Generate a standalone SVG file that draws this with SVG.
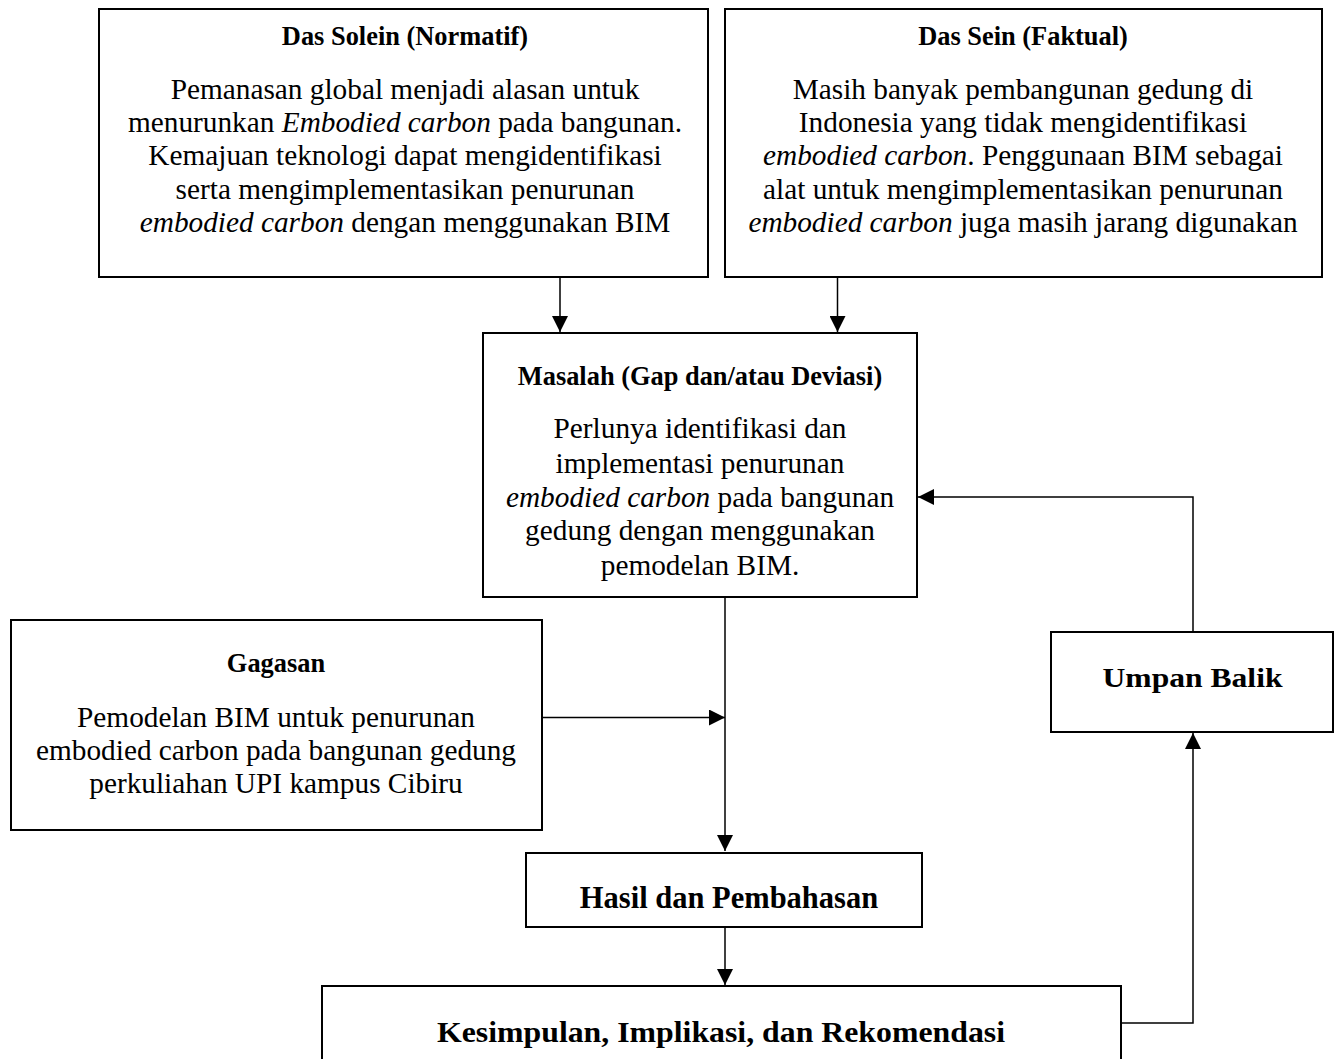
<svg xmlns="http://www.w3.org/2000/svg" width="1339" height="1059" viewBox="0 0 1339 1059">
<defs>
<style>
.box{fill:#fff;stroke:#000;stroke-width:2}
.con{fill:none;stroke:#000;stroke-width:1.5}
text{font-family:"Liberation Serif","Times New Roman",serif;fill:#000;text-anchor:middle}
.t{font-weight:bold;font-size:26.4px}
.b{font-size:29.3px}
.big{font-weight:bold}
.i{font-style:italic}
</style>
<marker id="ah" markerUnits="userSpaceOnUse" markerWidth="16" markerHeight="16" refX="15" refY="7.5" orient="auto" viewBox="0 0 15 15">
<path d="M0,0 L15,7.5 L0,15 z" fill="#000"/>
</marker>
</defs>
<rect width="1339" height="1059" fill="#fff"/>

<g id="connectors">
<line class="con" x1="560" y1="277" x2="560" y2="332" marker-end="url(#ah)"/>
<line class="con" x1="837.5" y1="277" x2="837.5" y2="332" marker-end="url(#ah)"/>
<line class="con" x1="725" y1="597" x2="725" y2="851" marker-end="url(#ah)"/>
<line class="con" x1="542" y1="717.5" x2="725" y2="717.5" marker-end="url(#ah)"/>
<line class="con" x1="725" y1="927" x2="725" y2="985" marker-end="url(#ah)"/>
<polyline class="con" points="1121,1023 1193,1023 1193,733" marker-end="url(#ah)"/>
<polyline class="con" points="1193,632 1193,497 918,497" marker-end="url(#ah)"/>
</g>

<g id="das-solein">
<rect class="box" x="99" y="9" width="609" height="268"/>
<text class="t" x="405" y="45">Das Solein (Normatif)</text>
<text class="b" x="405" y="99">Pemanasan global menjadi alasan untuk</text>
<text class="b" x="405" y="132">menurunkan <tspan class="i">Embodied carbon</tspan> pada bangunan.</text>
<text class="b" x="405" y="165">Kemajuan teknologi dapat mengidentifikasi</text>
<text class="b" x="405" y="198.5">serta mengimplementasikan penurunan</text>
<text class="b" x="405" y="232"><tspan class="i">embodied carbon</tspan> dengan menggunakan BIM</text>
</g>

<g id="das-sein">
<rect class="box" x="725" y="9" width="597" height="268"/>
<text class="t" x="1023" y="45">Das Sein (Faktual)</text>
<text class="b" x="1023" y="99">Masih banyak pembangunan gedung di</text>
<text class="b" x="1023" y="132">Indonesia yang tidak mengidentifikasi</text>
<text class="b" x="1023" y="165"><tspan class="i">embodied carbon</tspan>. Penggunaan BIM sebagai</text>
<text class="b" x="1023" y="198.5">alat untuk mengimplementasikan penurunan</text>
<text class="b" x="1023" y="232"><tspan class="i">embodied carbon</tspan> juga masih jarang digunakan</text>
</g>

<g id="masalah">
<rect class="box" x="483" y="333" width="434" height="264"/>
<text class="t" x="700" y="385">Masalah (Gap dan/atau Deviasi)</text>
<text class="b" x="700" y="438">Perlunya identifikasi dan</text>
<text class="b" x="700" y="473">implementasi penurunan</text>
<text class="b" x="700" y="507"><tspan class="i">embodied carbon</tspan> pada bangunan</text>
<text class="b" x="700" y="540">gedung dengan menggunakan</text>
<text class="b" x="700" y="575">pemodelan BIM.</text>
</g>

<g id="gagasan">
<rect class="box" x="11" y="620" width="531" height="210"/>
<text class="t" x="276" y="672">Gagasan</text>
<text class="b" x="276" y="726.5">Pemodelan BIM untuk penurunan</text>
<text class="b" x="276" y="759.5">embodied carbon pada bangunan gedung</text>
<text class="b" x="276" y="793">perkuliahan UPI kampus Cibiru</text>
</g>

<g id="umpan-balik">
<rect class="box" x="1051" y="632" width="282" height="100"/>
<text class="big" x="1192.5" y="687" font-size="27" textLength="180" lengthAdjust="spacingAndGlyphs">Umpan Balik</text>
</g>

<g id="hasil">
<rect class="box" x="526" y="853" width="396" height="74"/>
<text class="big" x="729" y="908" font-size="30.5">Hasil dan Pembahasan</text>
</g>

<g id="kesimpulan">
<rect class="box" x="322" y="986" width="799" height="100"/>
<text class="big" x="721" y="1041.5" font-size="28.5" textLength="568" lengthAdjust="spacingAndGlyphs">Kesimpulan, Implikasi, dan Rekomendasi</text>
</g>
</svg>
